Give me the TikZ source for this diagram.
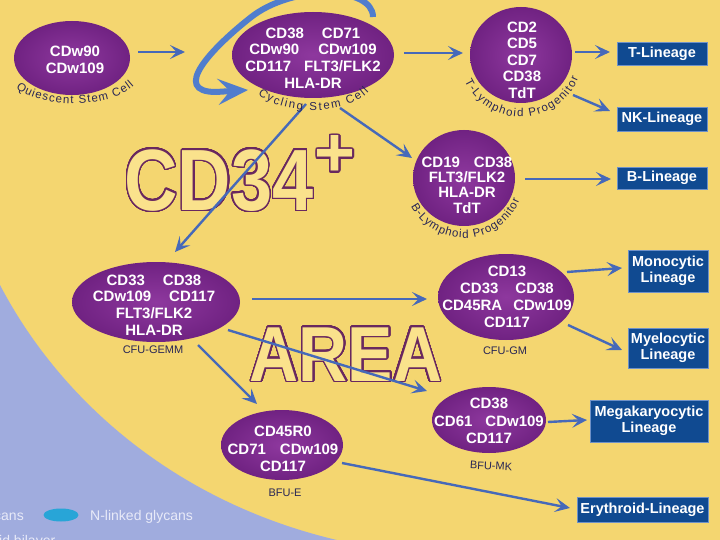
\documentclass[tikz,border=0pt]{standalone}
\usepackage{fontspec}
\setmainfont{Liberation Sans}
\usepackage{graphicx}
\usepackage{contour}
\usetikzlibrary{shapes.geometric,arrows.meta,decorations.text}
\pgfdeclarelayer{back}
\pgfdeclarelayer{mid}
\pgfsetlayers{back,mid,main}
\contourlength{1.5pt}
\contournumber{48}
\definecolor{bgyellow}{RGB}{244,214,112}
\definecolor{bgblue}{RGB}{160,172,222}
\definecolor{cellpurple}{RGB}{112,34,130}
\definecolor{cellpurplelight}{RGB}{142,56,158}
\definecolor{boxblue}{RGB}{16,74,145}
\definecolor{boxedge}{RGB}{110,145,200}
\definecolor{arrowblue}{RGB}{70,105,185}
\definecolor{swooshblue}{RGB}{80,125,205}
\definecolor{labelnavy}{RGB}{40,38,85}
\definecolor{bigline}{RGB}{105,40,95}
\definecolor{bigfill}{RGB}{250,226,140}
\definecolor{glycan}{RGB}{40,165,215}
\definecolor{legendtext}{RGB}{232,234,248}
\newcommand\myCellFont{\bfseries\fontsize{15}{16.8}\selectfont}
\newcommand\myCellFontT{\bfseries\fontsize{15}{16.5}\selectfont}
\newcommand\myCellFontB{\bfseries\fontsize{15}{15.4}\selectfont}
\newcommand\myCellFontE{\bfseries\fontsize{15}{17.5}\selectfont}
\newcommand\myLinFont{\bfseries\fontsize{14.5}{16.5}\selectfont}
\newcommand\myLabFont{\fontsize{11}{11}\selectfont}
\newcommand\myCurveFont{\fontsize{11.5}{11.5}\selectfont\color{labelnavy}}
\newcommand\myLegFont{\fontsize{14}{14}\selectfont}
\newcommand\myBig[1]{\bfseries\fontsize{#1}{#1}\selectfont}
\begin{document}
\begin{tikzpicture}[x=1pt,y=-1pt,
  cellshape/.style={ellipse, inner sep=0pt, shading=radial, inner color=cellpurplelight, outer color=cellpurple},
  celltext/.style={text=white, font=\myCellFont, align=center, inner sep=0pt},
  linbox/.style={rectangle, fill=boxblue, draw=boxedge, line width=0.8pt, text=white, font=\myLinFont, align=center, inner sep=0pt},
  celllab/.style={text=labelnavy, font=\myLabFont, inner sep=0pt},
  arr/.style={draw=arrowblue, line width=2.4pt, -{Stealth[length=15pt,width=14pt,inset=6.5pt]}},
  swoosh/.style={draw=swooshblue, line width=6pt, -{Stealth[length=30pt,width=26pt,inset=12pt]}},
  curvelab/.style={decorate, decoration={text along path, text align={fit to path}, text={#1}}},
  legend/.style={text=legendtext, font=\myLegFont, inner sep=0pt},
  bigtext/.style={text=bigfill, inner sep=0pt}
]
\useasboundingbox (0,0) rectangle (720,540);

% cells
\node[cellshape, minimum width=116pt, minimum height=74pt] (qui) at (72,58) {};
\node[celltext] (quit) at (75,60) {CDw90\\CDw109};
\node[cellshape, minimum width=162pt, minimum height=86pt] (cyc) at (313,55) {};
\node[celltext] (cyct) at (313,58) {CD38\hspace{18pt}CD71\\CDw90\hspace{19pt}CDw109\\CD117\hspace{13pt}FLT3/FLK2\\HLA-DR};
\node[cellshape, minimum width=102pt, minimum height=96pt] (tly) at (521,55) {};
\node[celltext, font=\myCellFontT] (tlyt) at (522,60) {CD2\\CD5\\CD7\\CD38\\TdT};
\node[cellshape, minimum width=102pt, minimum height=96pt] (bly) at (464,178) {};
\node[celltext, font=\myCellFontB] (blyt) at (467,185) {CD19\hspace{14pt}CD38\\FLT3/FLK2\\HLA-DR\\TdT};
\node[cellshape, minimum width=168pt, minimum height=80pt] (gemm) at (156,302) {};
\node[celltext] (gemmt) at (154,305) {CD33\hspace{18pt}CD38\\CDw109\hspace{18pt}CD117\\FLT3/FLK2\\HLA-DR};
\node[cellshape, minimum width=136pt, minimum height=86pt] (gm) at (506,297) {};
\node[celltext] (gmt) at (507,297) {CD13\\CD33\hspace{17pt}CD38\\CD45RA\hspace{11pt}CDw109\\CD117};
\node[cellshape, minimum width=122pt, minimum height=70pt] (bfue) at (282,445) {};
\node[celltext, font=\myCellFontE] (bfuet) at (283,449) {CD45R0\\CD71\hspace{14pt}CDw109\\CD117};
\node[cellshape, minimum width=114pt, minimum height=66pt] (bfumk) at (489,420) {};
\node[celltext, font=\myCellFontE] (bfumkt) at (489,421) {CD38\\CD61\hspace{13pt}CDw109\\CD117};

% cell labels
\node[celllab] (gemml) at (153,350) {CFU-GEMM};
\node[celllab] (gml) at (505,351) {CFU-GM};
\node[celllab, rotate=-3] (bfumkl) at (491,466) {BFU-MK};
\node[celllab] (bfuel) at (285,493) {BFU-E};
\path[curvelab={|\myCurveFont|Quiescent Stem Cell}] (16,88) .. controls (38,108) and (108,110) .. (134,86);
\path[curvelab={|\myCurveFont|Cycling Stem Cell}] (258,94) .. controls (280,115) and (345,117) .. (369,92);
\path[curvelab={|\myCurveFont|T-Lymphoid Progenitor}] ([shift={(155:62)}]tly.center) arc[start angle=155, end angle=22, radius=62];
\path[curvelab={|\myCurveFont|B-Lymphoid Progenitor}] ([shift={(152:60)}]bly.center) arc[start angle=152, end angle=22, radius=60];

% lineage boxes
\node[linbox, minimum width=90pt, minimum height=23pt] (tlin) at (662,53.5) {T-Lineage};
\node[linbox, minimum width=90pt, minimum height=24pt] (nk) at (662,119) {NK-Lineage};
\node[linbox, minimum width=90pt, minimum height=22pt] (blin) at (662,178) {B-Lineage};
\node[linbox, minimum width=80pt, minimum height=42pt] (mono) at (668,271) {Monocytic\\Lineage};
\node[linbox, minimum width=80pt, minimum height=40pt] (myelo) at (668,348) {Myelocytic\\Lineage};
\node[linbox, minimum width=118pt, minimum height=42pt] (mega) at (649,421) {Megakaryocytic\\Lineage};
\node[linbox, minimum width=131pt, minimum height=25pt] (ery) at (642.5,509.5) {Erythroid-Lineage};

\begin{pgfonlayer}{mid}
\draw[swoosh] ([shift={(60,-38)}]cyc.center) .. controls (373,-14) and (292,-16) .. (250,18) .. controls (212,48) and (170,92) .. (216,92) -- ([shift={(-65,35)}]cyc.center);
\draw[arr] ([shift={(66,-6)}]qui.center) -- ([shift={(-128,-3)}]cyc.center);
\draw[arr] ([shift={(91,-2)}]cyc.center) -- ([shift={(-58,-2)}]tly.center);
\draw[arr] ([shift={(27,53)}]cyc.center) -- ([shift={(-52,-20)}]bly.center);
\draw[arr] ([shift={(-7,49)}]cyc.center) -- ([shift={(19,-50)}]gemm.center);
\draw[arr] ([shift={(54,-3)}]tly.center) -- ([shift={(-52,-1.5)}]tlin.center);
\draw[arr] ([shift={(52,40)}]tly.center) -- ([shift={(-52,-8)}]nk.center);
\draw[arr] ([shift={(61,1)}]bly.center) -- ([shift={(-51,1)}]blin.center);
\draw[arr] ([shift={(96,-3)}]gemm.center) -- ([shift={(-79,2)}]gm.center);
\draw[arr] ([shift={(42,43)}]gemm.center) -- ([shift={(-25,-41)}]bfue.center);
\draw[arr] ([shift={(72,28)}]gemm.center) -- ([shift={(-62,-29)}]bfumk.center);
\draw[arr] ([shift={(61,-25)}]gm.center) -- ([shift={(-46,-3)}]mono.center);
\draw[arr] ([shift={(62,28)}]gm.center) -- ([shift={(-46,2)}]myelo.center);
\draw[arr] ([shift={(59,2)}]bfumk.center) -- ([shift={(-62,-1)}]mega.center);
\draw[arr] ([shift={(60,18)}]bfue.center) -- ([shift={(-72.5,-1.5)}]ery.center);
\end{pgfonlayer}

\begin{pgfonlayer}{back}
\fill[bgyellow] (0,0) rectangle (720,540);
\fill[bgblue] (0,285) .. controls (60,400) and (180,510) .. (360,545) -- (0,545) -- cycle;
\node[bigtext] (cd34) at (219,181) {\myBig{87}\scalebox{0.85}[1]{\contour{bigline}{CD34}}};
\node[bigtext] (cdplus) at (335,157) {\myBig{70}\contour{bigline}{+}};
\node[bigtext] (area) at (346,355) {\myBig{78}\scalebox{0.87}[1]{\contour{bigline}{AREA}}};
\node[legend, anchor=base west] (cans) at (-6,520) {cans};
\node[ellipse, fill=glycan, minimum width=35pt, minimum height=13pt, inner sep=0pt] (blob) at (61,515) {};
\node[legend, anchor=base west] (nlink) at (90,520) {N-linked glycans};
\node[legend, anchor=base west] (bilayer) at (-1,545) {id bilayer};
\end{pgfonlayer}
\end{tikzpicture}
\end{document}
